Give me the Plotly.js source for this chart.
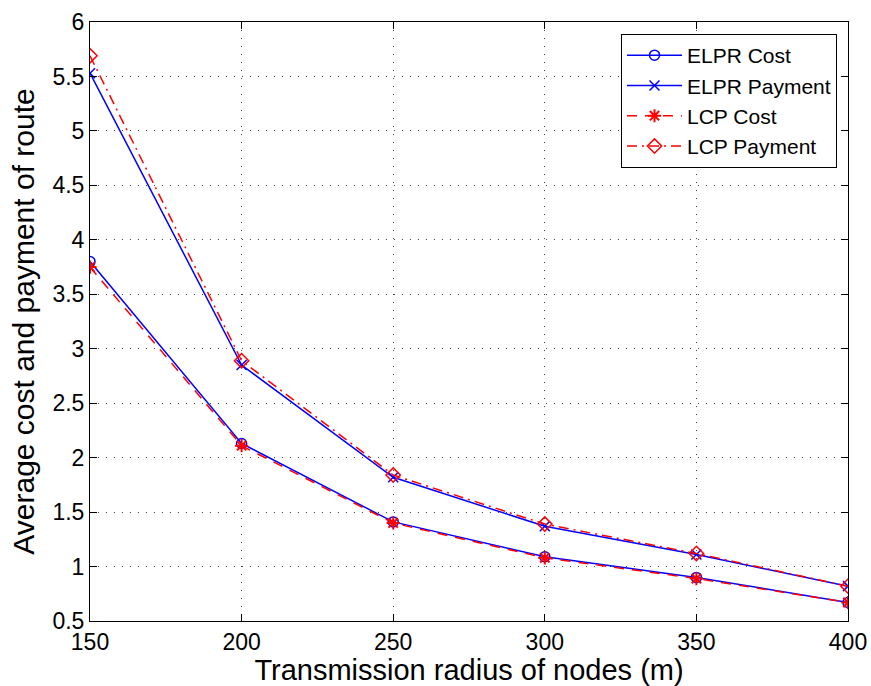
<!DOCTYPE html>
<html><head><meta charset="utf-8">
<script src="https://cdn.plot.ly/plotly-3.0.1.min.js"></script>
<style>html,body{margin:0;padding:0;background:#fff;}#chart{width:871px;height:686px;}</style>
</head><body><div id="chart"></div>
<script>
var radius = [150, 200, 250, 300, 350, 400];
var elprCost = [3.80, 2.13, 1.41, 1.09, 0.90, 0.67];
var elprPayment = [5.53, 2.85, 1.82, 1.37, 1.11, 0.82];
var lcpCost = [3.75, 2.11, 1.40, 1.08, 0.89, 0.67];
var lcpPayment = [5.69, 2.89, 1.84, 1.39, 1.12, 0.82];
var xTicks = [150, 200, 250, 300, 350, 400];
var yTicks = [0.5, 1, 1.5, 2, 2.5, 3, 3.5, 4, 4.5, 5, 5.5, 6];

var FONT = 'Liberation Sans, Arial, Helvetica, sans-serif';

var traces = [
  {x: radius, y: elprCost, name: 'ELPR Cost', mode: 'lines+markers',
   line: {color: '#0000ff', width: 1.5},
   marker: {symbol: 'circle-open', size: 10, color: '#0000ff', line: {width: 1.5}}},
  {x: radius, y: elprPayment, name: 'ELPR Payment', mode: 'lines+markers',
   line: {color: '#0000ff', width: 1.5},
   marker: {symbol: 'x-thin-open', size: 10, color: '#0000ff', line: {width: 1.5}}},
  {x: radius, y: lcpCost, name: 'LCP Cost', mode: 'lines+markers',
   line: {color: '#ff0000', width: 1.5, dash: '10px,8px'},
   marker: {symbol: 'asterisk-open', size: 11, color: '#ff0000', line: {width: 2}}},
  {x: radius, y: lcpPayment, name: 'LCP Payment', mode: 'lines+markers',
   line: {color: '#ff0000', width: 1.5, dash: '10px,5px,2px,5px'},
   marker: {symbol: 'diamond-open', size: 11, color: '#ff0000', line: {width: 1.5}}}
];

var axisCommon = {
  showline: true, mirror: 'ticks', linecolor: '#000', linewidth: 1,
  ticks: 'inside', ticklen: 7, tickcolor: '#000',
  showgrid: true, gridcolor: '#444', griddash: '1px,7px', gridwidth: 1,
  zeroline: false,
  tickfont: {family: FONT, size: 23, color: '#000'}
};

var layout = {
  width: 871, height: 686,
  margin: {l: 90, r: 23, t: 22, b: 65},
  paper_bgcolor: '#fff', plot_bgcolor: '#fff',
  font: {family: FONT, color: '#000'},
  xaxis: Object.assign({}, axisCommon, {
    range: [150, 400], tickvals: xTicks, ticktext: xTicks.map(String),
    title: {text: 'Transmission radius of nodes (m)', standoff: 0,
            font: {family: FONT, size: 29, color: '#000'}}
  }),
  yaxis: Object.assign({}, axisCommon, {
    range: [0.5, 6], tickvals: yTicks, ticktext: yTicks.map(String),
    title: {text: 'Average cost and payment of route', standoff: 8,
            font: {family: FONT, size: 30, color: '#000'}}
  }),
  showlegend: true,
  legend: {x: 0.9855, y: 0.98, xanchor: 'right', yanchor: 'top',
           bgcolor: '#fff', bordercolor: '#000', borderwidth: 1,
           font: {family: FONT, size: 21, color: '#000'},
           tracegroupgap: 0, itemwidth: 55}
};

Plotly.newPlot('chart', traces, layout, {displayModeBar: false, staticPlot: true});
</script></body></html>
